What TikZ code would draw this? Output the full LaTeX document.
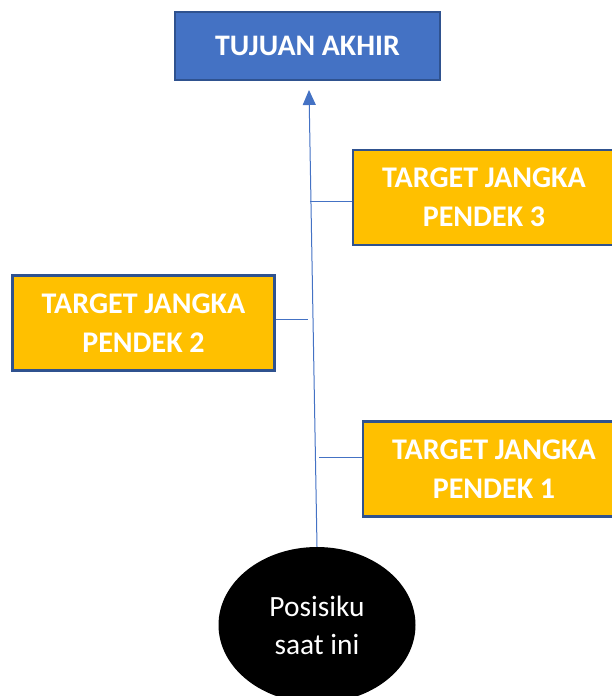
\documentclass[tikz,border=0pt]{standalone}
\usepackage{fontspec}
\setmainfont{Carlito}
\usetikzlibrary{arrows.meta,shapes.geometric}
\definecolor{blueFill}{HTML}{4472C4}
\definecolor{blueEdge}{HTML}{2F528F}
\definecolor{gold}{HTML}{FFC000}
\tikzset{
  goalbox/.style={draw=blueEdge,line width=2.5pt,fill=blueFill,text=white,font=\bfseries\fontsize{29.8}{34}\selectfont,inner sep=0pt,minimum width=265pt,minimum height=68pt},
  targetbox/.style={draw=blueEdge,line width=2.5pt,fill=gold,text=white,font=\bfseries\fontsize{30}{39}\selectfont,align=center,inner sep=0pt,minimum width=262pt,minimum height=95pt},
  startnode/.style={ellipse,fill=black,text=white,font=\fontsize{29.4}{38}\selectfont,align=center,inner sep=0pt,minimum width=197pt,minimum height=156pt},
  link/.style={draw=blueFill,line width=1pt}
}
\begin{document}
\begin{tikzpicture}[x=1pt,y=-1pt]
\useasboundingbox (0,0) rectangle (612,696);
\clip (0,0) rectangle (612,696);
\node[goalbox] (goal) at (307.5,46) {TUJUAN AKHIR};
\node[targetbox] (t3) at (484,197.5) {TARGET JANGKA\\PENDEK 3};
\node[targetbox] (t2) at (143.5,323) {TARGET JANGKA\\PENDEK 2};
\node[targetbox] (t1) at (494,469) {TARGET JANGKA\\PENDEK 1};
\node[startnode] (now) at (317,625) {Posisiku\\saat ini};
\coordinate (tip) at (309,90);
\coordinate (c3) at (309.6,201);
\coordinate (c2) at (308,319);
\coordinate (c1) at (318.8,457);
\draw[link,-{Triangle[length=15pt,width=13pt]}] (now.north) -- (tip);
\draw[link] (t3.west |- c3) -- (c3);
\draw[link] (t2.east |- c2) -- (c2);
\draw[link] (t1.west |- c1) -- (c1);
\end{tikzpicture}
\end{document}
